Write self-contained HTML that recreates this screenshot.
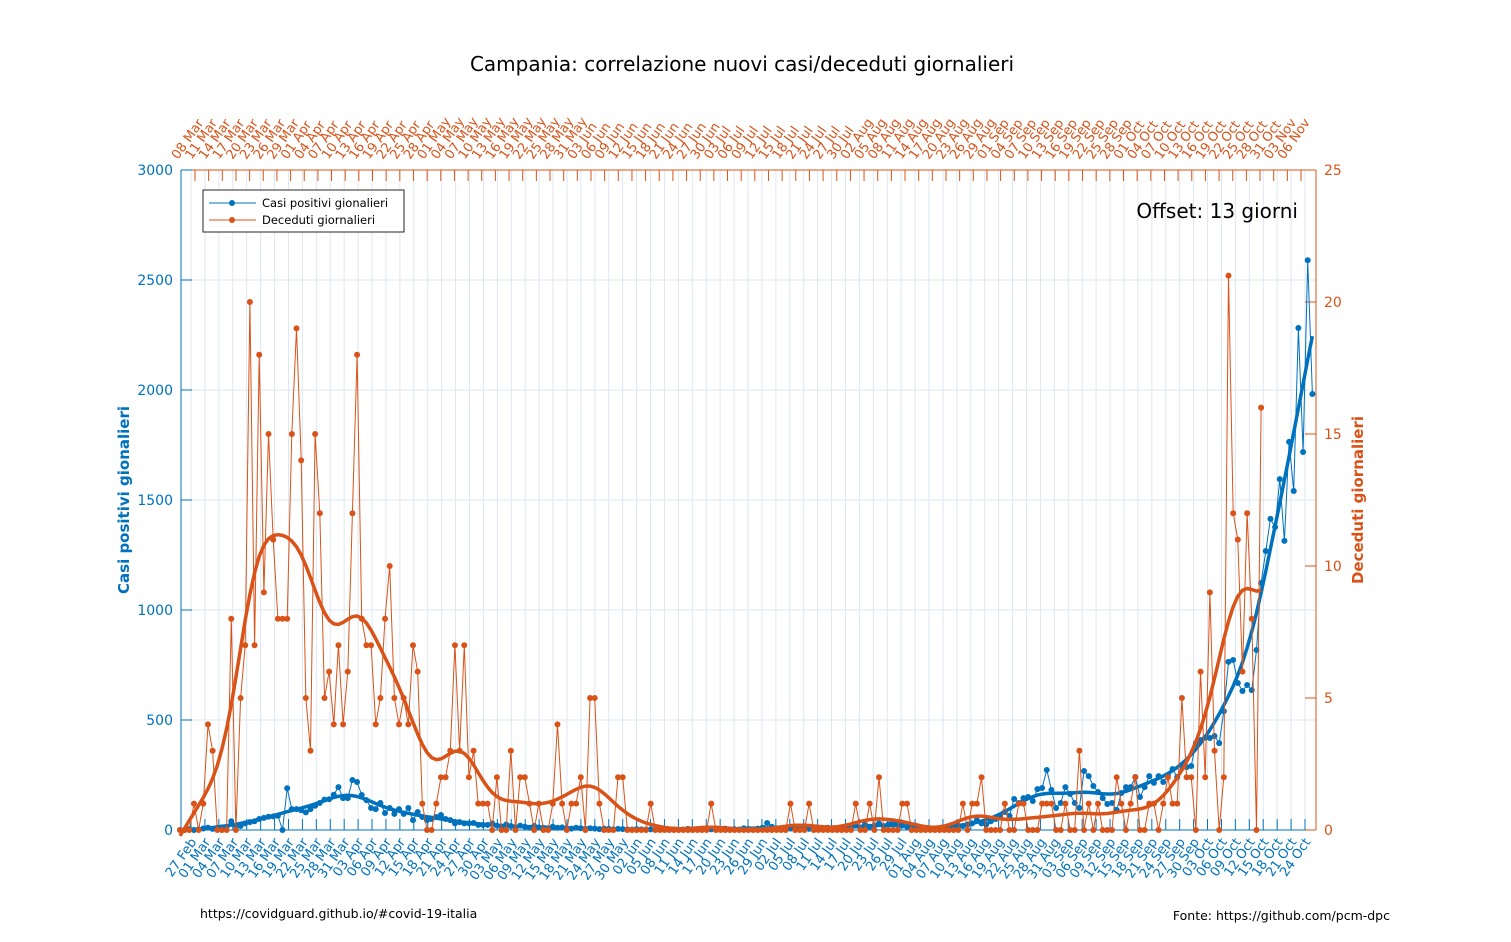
<!DOCTYPE html>
<html><head><meta charset="utf-8"><style>
html,body{margin:0;padding:0;background:#fff;}
svg{display:block;font-family:"DejaVu Sans","Liberation Sans",sans-serif;}
</style></head><body>
<svg id="chart" width="1511" height="942" viewBox="0 0 1511 942" xmlns="http://www.w3.org/2000/svg">
<rect x="0" y="0" width="1511" height="942" fill="#fff"/>
<text x="742" y="71" font-size="20" text-anchor="middle" fill="#000">Campania: correlazione nuovi casi/deceduti giornalieri</text>
<g id="grid"></g>
<g id="axes"></g>
<g id="marks"></g>
<text transform="translate(129,500) rotate(-90)" font-size="15" font-weight="bold" fill="#0072BD" text-anchor="middle">Casi positivi gionalieri</text>
<text transform="translate(1363,500) rotate(-90)" font-size="15" font-weight="bold" fill="#D95319" text-anchor="middle">Deceduti giornalieri</text>
<text x="1298" y="218" font-size="20" text-anchor="end" fill="#000">Offset: 13 giorni</text>
<g>
<rect x="203" y="190" width="201" height="42" fill="#fff" stroke="#262626" stroke-width="1"/>
<g>
<line x1="209" y1="203" x2="256" y2="203" stroke="#0072BD" stroke-width="1"/><circle cx="232" cy="203" r="3" fill="#0072BD"/>
<text x="262" y="207" font-size="11.5" fill="#000">Casi positivi gionalieri</text></g>
<g>
<line x1="209" y1="220" x2="256" y2="220" stroke="#D95319" stroke-width="1"/><circle cx="232" cy="220" r="3" fill="#D95319"/>
<text x="262" y="224" font-size="11.5" fill="#000">Deceduti giornalieri</text></g>
</g>
<text x="200" y="918" font-size="12.5" fill="#000">https://covidguard.github.io/#covid-19-italia</text>
<text x="1390" y="920" font-size="12.5" fill="#000" text-anchor="end">Fonte: https://github.com/pcm-dpc</text>
</svg>
<script>
const cases = [0,0,4,0,3,7,10,5,10,12,15,40,20,18,30,36,40,50,55,60,62,65,0,190,95,95,90,80,95,110,123,138,140,160,195,145,145,227,218,159,136,100,95,123,77,100,73,95,73,100,45,82,59,45,50,59,68,50,45,30,36,30,30,32,23,23,23,30,
20,15,25,18,12,20,15,10,18,12,10,8,15,10,12,8,6,10,8,5,8,6,4,6,5,3,5,4,3,2,4,3,2,
3,2,1,4,2,3,1,2,5,3,2,4,1,3,5,2,6,3,4,2,8,5,3,6,10,
32,15,8,5,3,6,4,8,3,5,2,4,6,10,5,8,12,6,15,20,
10,25,15,20,30,18,25,35,28,20,15,12,10,8,5,6,4,8,10,12,15,20,18,25,30,
45,30,25,40,50,
59,82,64,141,123,145,150,132,186,191,273,182,100,123,195,164,123,100,268,245,200,173,145,118,123,91,168,195,195,241,150,195,245,214,245,218,250,277,241,295,286,291,395,
409,420,418,427,395,540,764,773,668,632,659,636,818,1123,1268,1414,1377,1595,1314,1764,1541,2282,1718,2590,1982];
const deaths = [0,0,0,1,0,1,4,3,0,0, 0,8,0,5,7,20,7,18,9,15, 11,8,8,8,15,19,14,5,3,15, 12,5,6,4,7,4,6,12,18,8,
7,7,4,5,8,10,5,4,5,4, 7,6,1,0,0,1,2,2,3,7, 3,7,2,3,1,1,1,0,2,0, 0,3,0,2,2,1,0,1,0,0,
1,4,1,0,1,1,2,0,5,5, 1,0,0,0,2,2,0,0,0,0, 0,1,0,0,0,0,0,0,0,0, 0,0,0,0,1,0,0,0,0,0,
0,0,0,0,0,0,0,0,0,0, 0,1,0,0,0,1,0,0,0,0, 0,0,0,0,0,1,0,0,1,0, 2,0,0,0,0,1,1,0,0,0,
0,0,0,0,0,0,0,0,1,0, 1,1,2,0,0,0,0,1,0,0, 1,1,0,0,0,1,1,1,0,0, 1,0,0,3,0,1,0,1,0,0,
0,2,1,0,1,2,0,0,1,1, 0,1,2,1,1,5,2,2,0,6, 2,9,3,0,2,21,12,11,6,12, 8,0,16];
const leftTicks = [0,500,1000,1500,2000,2500,3000];
const rightTicks = [0,5,10,15,20,25];
const bottomStart = "2020-02-27";
const topStart = "2020-03-08";
const topEnd = "2020-11-06";
const bottomEnd = "2020-10-24";

const NS="http://www.w3.org/2000/svg";
const PL=181, PR=1316, PT=170, PB=830;
const BLUE="#0072BD", ORANGE="#D95319", GRID="#dde7f1";
function xOf(i){return 180+4.66*i;}
function yL(v){return PB-(v/3000)*(PB-PT);}
function yR(v){return PB-(v/25)*(PB-PT);}
function mk(tag,attrs,parent){const e=document.createElementNS(NS,tag);for(const k in attrs)e.setAttribute(k,attrs[k]);parent.appendChild(e);return e;}
const MON=["Jan","Feb","Mar","Apr","May","Jun","Jul","Aug","Sep","Oct","Nov","Dec"];
function dateList(s,e){const out=[];let d=new Date(s+"T12:00:00Z");const end=new Date(e+"T12:00:00Z");while(d<=end){out.push(String(d.getUTCDate()).padStart(2,"0")+" "+MON[d.getUTCMonth()]);d=new Date(d.getTime()+3*86400000);}return out;}
const bottomLabels=dateList(bottomStart,bottomEnd);
const topLabels=dateList(topStart,topEnd);
function bx(k){return 191+k*(1305-191)/(bottomLabels.length-1);}
function tx(k){return 195+k*(1301-195)/(topLabels.length-1);}

const grid=document.getElementById('grid'), axes=document.getElementById('axes'), marks=document.getElementById('marks');
bottomLabels.forEach((l,k)=>{const g=mk('line',{x1:bx(k),x2:bx(k),y1:PT,y2:PB,stroke:GRID,'stroke-width':1},grid);

});
leftTicks.forEach(v=>{const g=mk('line',{x1:PL,x2:PR,y1:yL(v),y2:yL(v),stroke:GRID,'stroke-width':1},grid);

});
mk('line',{x1:PL,x2:PL,y1:PT,y2:PB,stroke:BLUE,'stroke-width':1},axes);
mk('line',{x1:PL,x2:PR,y1:PB,y2:PB,stroke:BLUE,'stroke-width':1},axes);
mk('line',{x1:PR,x2:PR,y1:PT,y2:PB,stroke:ORANGE,'stroke-width':1},axes);
mk('line',{x1:PL,x2:PR,y1:PT,y2:PT,stroke:ORANGE,'stroke-width':1},axes);
leftTicks.forEach(v=>{mk('line',{x1:PL,x2:PL+11,y1:yL(v),y2:yL(v),stroke:BLUE},axes);
const t=mk('text',{x:PL-8,y:yL(v)+5,'font-size':14,'text-anchor':'end',fill:BLUE},axes);t.textContent=v;

});
rightTicks.forEach(v=>{mk('line',{x1:PR-11,x2:PR,y1:yR(v),y2:yR(v),stroke:ORANGE},axes);
const t=mk('text',{x:PR+8,y:yR(v)+5,'font-size':14,'text-anchor':'start',fill:ORANGE},axes);t.textContent=v;

});
bottomLabels.forEach((l,k)=>{mk('line',{x1:bx(k),x2:bx(k),y1:PB-11,y2:PB,stroke:BLUE},axes);
const t=mk('text',{transform:`translate(${bx(k)+6},${PB+12}) rotate(-55)`,'font-size':13,'text-anchor':'end',fill:BLUE},axes);t.textContent=l;

});
topLabels.forEach((l,k)=>{mk('line',{x1:tx(k),x2:tx(k),y1:PT,y2:PT+11,stroke:ORANGE},axes);
const t=mk('text',{transform:`translate(${tx(k)-17},${PT-10}) rotate(-55)`,'font-size':13,'text-anchor':'start',fill:ORANGE},axes);t.textContent=l;

});

function smooth(a,s){return a.map((_,i)=>{let sw=0,sx=0,sy=0,sxx=0,sxy=0;
  for(let j=Math.max(0,i-Math.ceil(4*s));j<=Math.min(a.length-1,i+Math.ceil(4*s));j++){
    const w=Math.exp(-((j-i)**2)/(2*s*s)), d=j-i;
    sw+=w;sx+=w*d;sy+=w*a[j];sxx+=w*d*d;sxy+=w*d*a[j];}
  const den=sw*sxx-sx*sx; if(Math.abs(den)<1e-9) return sy/sw;
  return (sy*sxx-sx*sxy)/den;});}
function series(arr,yf,color,name,sig){
  const g=mk('g',{},marks);
  
  
  const pts=arr.map((v,i)=>xOf(i).toFixed(1)+","+yf(v).toFixed(1)).join(" ");
  mk('polyline',{points:pts,fill:'none',stroke:color,'stroke-width':1},g);
  arr.forEach((v,i)=>{const c=mk('circle',{cx:xOf(i),cy:yf(v),r:3,fill:color},g);
    
    });
  const sm=smooth(arr,sig);
  const sl=mk('polyline',{points:sm.map((v,i)=>xOf(i).toFixed(1)+","+yf(v).toFixed(1)).join(" "),fill:'none',stroke:color,'stroke-width':3.5,'stroke-linejoin':'round'},g);
  
  
}
series(cases,yL,BLUE,'cases-series',3.8);
series(deaths,yR,ORANGE,'deaths-series',3.8);
</script>
</body></html>
